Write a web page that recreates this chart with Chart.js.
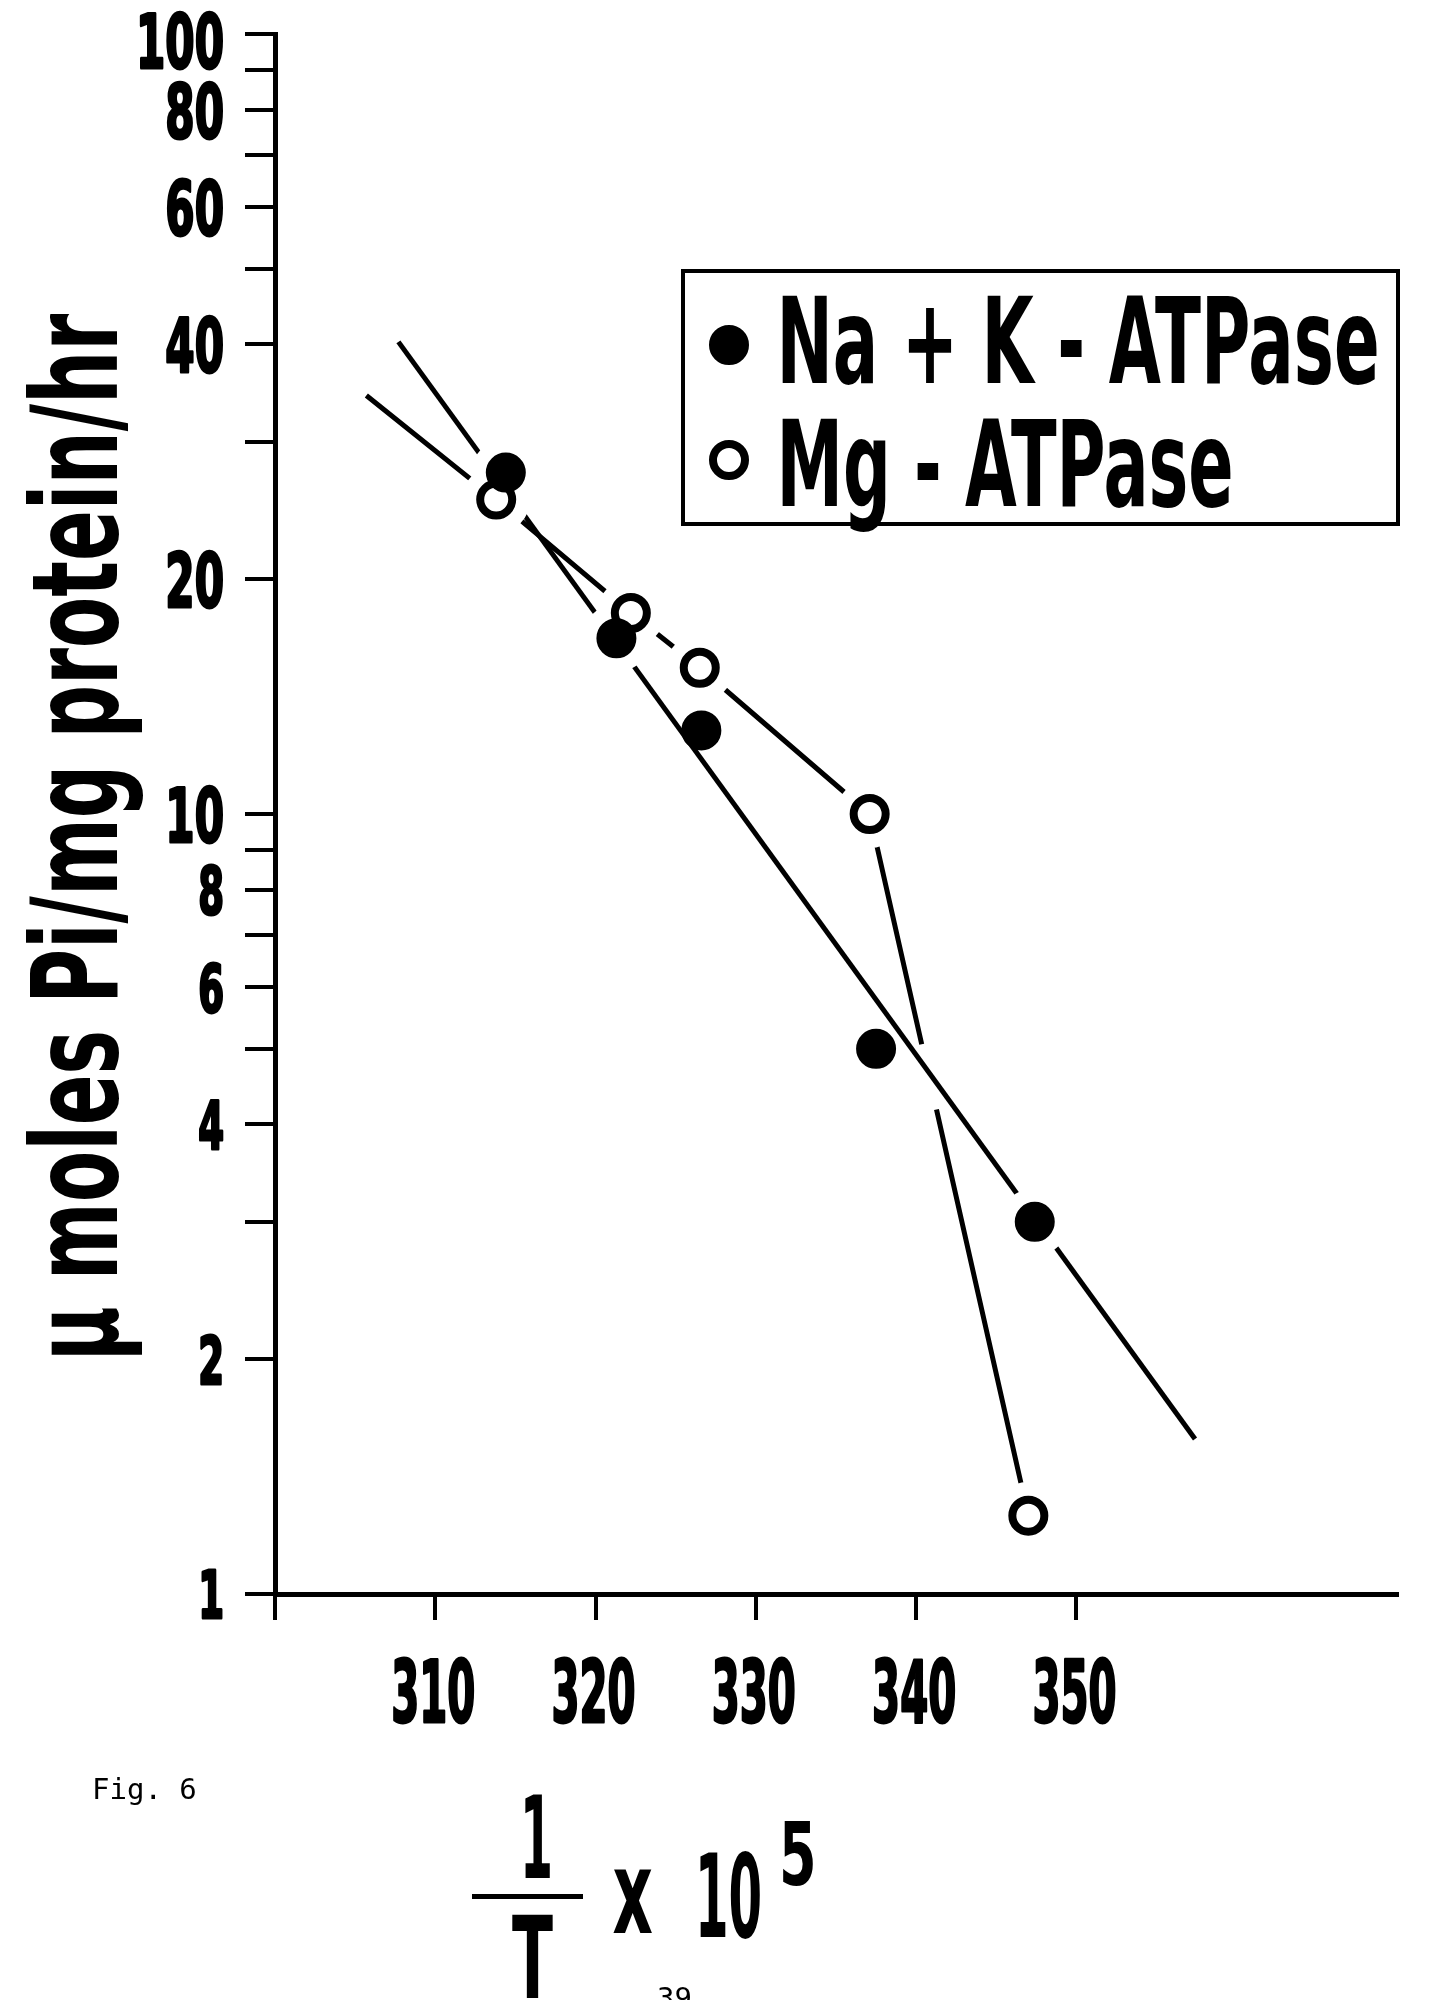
<!DOCTYPE html>
<html>
<head>
<meta charset="utf-8">
<title>Fig. 6</title>
<script src="https://cdn.jsdelivr.net/npm/chart.js@4.4.1/dist/chart.umd.min.js"></script>
<style>
  html, body { margin: 0; padding: 0; background: #fff; }
  #wrap { width: 1431px; height: 2000px; }
</style>
</head>
<body>
<div id="wrap"><canvas id="fig6" width="1431" height="2000"></canvas></div>
<script>
// 1/T x 10^5 against activity (log scale)
const naKX = [314.4, 321.3, 326.6, 337.5, 347.4];
const naKY = [27.4, 16.8, 12.8, 5.0, 3.0];
const mgX = [313.8, 322.2, 326.5, 337.1, 347.0];
const mgY = [25.3, 18.1, 15.4, 10.0, 1.26];

// hand drawn lines: straight fit for Na+K, joined points for Mg
const naKFitX = [307.7, 357.4];
const naKFitY = [40.3, 1.58];
const mgLineStartX = 305.7;
const mgLineStartY = 34.4;

const xTickValues = [300, 310, 320, 330, 340, 350];
const xTickLabels = ['', '310', '320', '330', '340', '350'];
const yTickValues = [1, 2, 3, 4, 5, 6, 7, 8, 9, 10, 20, 30, 40, 50, 60, 70, 80, 90, 100];
const yTickLabels = [1, 2, 4, 6, 8, 10, 20, 40, 60, 80, 100];

const seriesNames = ['Na + K - ATPase', 'Mg - ATPase'];

const BOLD = "'DejaVu Sans Condensed', 'DejaVu Sans', sans-serif";

const pts = (xs, ys) => xs.map((x, i) => ({ x, y: ys[i] }));

// draws text squeezed so its ink spans `width` starting at x
function squeezeText(ctx, str, x, y, width, font) {
  ctx.save();
  ctx.font = font;
  ctx.textAlign = 'left';
  ctx.textBaseline = 'alphabetic';
  const m = ctx.measureText(str);
  const ink = m.actualBoundingBoxLeft + m.actualBoundingBoxRight;
  ctx.translate(x, y);
  ctx.scale(width / ink, 1);
  ctx.fillText(str, m.actualBoundingBoxLeft, 0);
  ctx.restore();
}

// condensed, slightly heavier tick label centred vertically on cy
function tickText(ctx, str, x, cy, size, squeeze, align) {
  ctx.save();
  ctx.font = `bold ${size}px ${BOLD}`;
  ctx.textAlign = align;
  ctx.textBaseline = 'alphabetic';
  const h = ctx.measureText(str).actualBoundingBoxAscent;
  ctx.translate(x, Math.max(cy + h / 2, h + 12));
  ctx.scale(squeeze, 1);
  ctx.lineWidth = 3;
  ctx.lineJoin = 'round';
  ctx.fillText(str, 0, 0);
  ctx.strokeText(str, 0, 0);
  ctx.restore();
}

function inkWidth(ctx, str, font) {
  ctx.font = font;
  const m = ctx.measureText(str);
  return m.actualBoundingBoxLeft + m.actualBoundingBoxRight;
}

const figureText = {
  id: 'figureText',
  afterDraw(chart) {
    const ctx = chart.ctx;
    const { x: xs, y: ys } = chart.scales;
    ctx.save();
    ctx.fillStyle = '#000';
    ctx.strokeStyle = '#000';

    // tick labels, placed with the chart's own scales
    const xSqueeze = 80 / inkWidth(ctx, '330', `bold 86px ${BOLD}`);
    xTickValues.forEach((v, i) => {
      tickText(ctx, xTickLabels[i], xs.getPixelForValue(v) - 2, 1690, 86, xSqueeze, 'center');
    });
    const ySqueeze = 55 / inkWidth(ctx, '40', `bold 75px ${BOLD}`);
    yTickLabels.forEach(v => {
      const size = v < 10 ? 66 : 75;
      tickText(ctx, String(v), 224, ys.getPixelForValue(v), size, ySqueeze, 'right');
    });

    // y axis title, reads bottom to top
    ctx.save();
    ctx.translate(117, 1355);
    ctx.rotate(-Math.PI / 2);
    squeezeText(ctx, 'μ moles Pi/mg protein/hr', 0, 0, 1041, `bold 120px ${BOLD}`);
    ctx.restore();

    // legend box
    ctx.lineWidth = 4;
    ctx.strokeRect(683, 271, 715, 253);
    const rows = [345, 460];
    chart.data.datasets.slice(0, 2).forEach((ds, i) => {
      ctx.beginPath();
      ctx.arc(729, rows[i], ds.pointRadius, 0, Math.PI * 2);
      ctx.fillStyle = ds.pointBackgroundColor;
      ctx.fill();
      ctx.lineWidth = ds.pointBorderWidth;
      ctx.strokeStyle = ds.pointBorderColor;
      ctx.stroke();
    });
    ctx.fillStyle = '#000';
    squeezeText(ctx, seriesNames[0], 782, 383, 595, `bold 120px ${BOLD}`);
    squeezeText(ctx, seriesNames[1], 782, 506, 449, `bold 120px ${BOLD}`);

    // x axis title: 1/T x 10^5
    squeezeText(ctx, '1', 525, 1878, 25, `bold 114px ${BOLD}`);
    ctx.fillRect(472, 1894, 111, 5);
    squeezeText(ctx, 'T', 512, 1998, 41, `bold 114px ${BOLD}`);
    squeezeText(ctx, 'x', 613, 1933, 39, `bold 116px ${BOLD}`);
    squeezeText(ctx, '10', 700, 1937, 60, `bold 116px ${BOLD}`);
    squeezeText(ctx, '5', 783, 1885, 30, `bold 88px ${BOLD}`);

    ctx.font = "29px 'DejaVu Sans Mono', 'Liberation Mono', monospace";
    ctx.fillText('Fig. 6', 92, 1799);
    ctx.fillText('39', 657, 2008);
    ctx.restore();
  }
};

new Chart(document.getElementById('fig6'), {
  type: 'scatter',
  data: {
    datasets: [
      {
        label: seriesNames[0],
        data: pts(naKX, naKY),
        pointRadius: 18,
        pointBorderWidth: 4,
        pointBackgroundColor: '#000',
        pointBorderColor: '#000',
        order: 0
      },
      {
        label: seriesNames[1],
        data: pts(mgX, mgY),
        pointRadius: 16,
        pointBorderWidth: 8,
        pointBackgroundColor: '#fff',
        pointBorderColor: '#000',
        order: 1
      },
      {
        // white space the draughtsman left round the dots
        label: 'gaps',
        data: [...pts(naKX, naKY), ...pts(mgX, mgY)],
        pointRadius: c => (c.dataIndex === 2 || c.dataIndex === 3) ? 0 : 34,
        pointBorderWidth: 0,
        pointBackgroundColor: '#fff',
        order: 2
      },
      {
        label: 'Na + K fit',
        data: pts(naKFitX, naKFitY),
        showLine: true,
        borderColor: '#000',
        borderWidth: 5,
        pointRadius: 0,
        order: 3
      },
      {
        label: 'Mg line',
        data: [{ x: mgLineStartX, y: mgLineStartY }, ...pts(mgX, mgY)],
        showLine: true,
        borderColor: '#000',
        borderWidth: 5,
        pointRadius: 0,
        // break where it runs under the Na + K line
        segment: { borderDash: c => c.p0DataIndex === 4 ? [236, 67, 2000] : undefined },
        order: 4
      }
    ]
  },
  options: {
    responsive: false,
    animation: false,
    devicePixelRatio: 1,
    layout: { padding: { top: 34, right: 32, bottom: 0, left: 0 } },
    plugins: { legend: { display: false }, tooltip: { enabled: false } },
    scales: {
      x: {
        type: 'linear',
        min: 300,
        max: 370,
        afterBuildTicks: s => { s.ticks = xTickValues.map(v => ({ value: v })); },
        afterFit: s => { s.height = 406; s.paddingLeft = 0; s.paddingRight = 0; },
        ticks: { display: false },
        grid: { drawOnChartArea: false, tickLength: 26, tickWidth: 4, tickColor: '#000', lineWidth: 4 },
        border: { color: '#000', width: 5 }
      },
      y: {
        type: 'logarithmic',
        min: 1,
        max: 100,
        afterBuildTicks: s => { s.ticks = yTickValues.map(v => ({ value: v })); },
        afterFit: s => { s.width = 275; s.paddingTop = 0; s.paddingBottom = 0; },
        ticks: { display: false },
        grid: { drawOnChartArea: false, tickLength: 30, tickWidth: 4, tickColor: '#000', lineWidth: 4 },
        border: { color: '#000', width: 5 }
      }
    }
  },
  plugins: [figureText]
});
</script>
</body>
</html>
